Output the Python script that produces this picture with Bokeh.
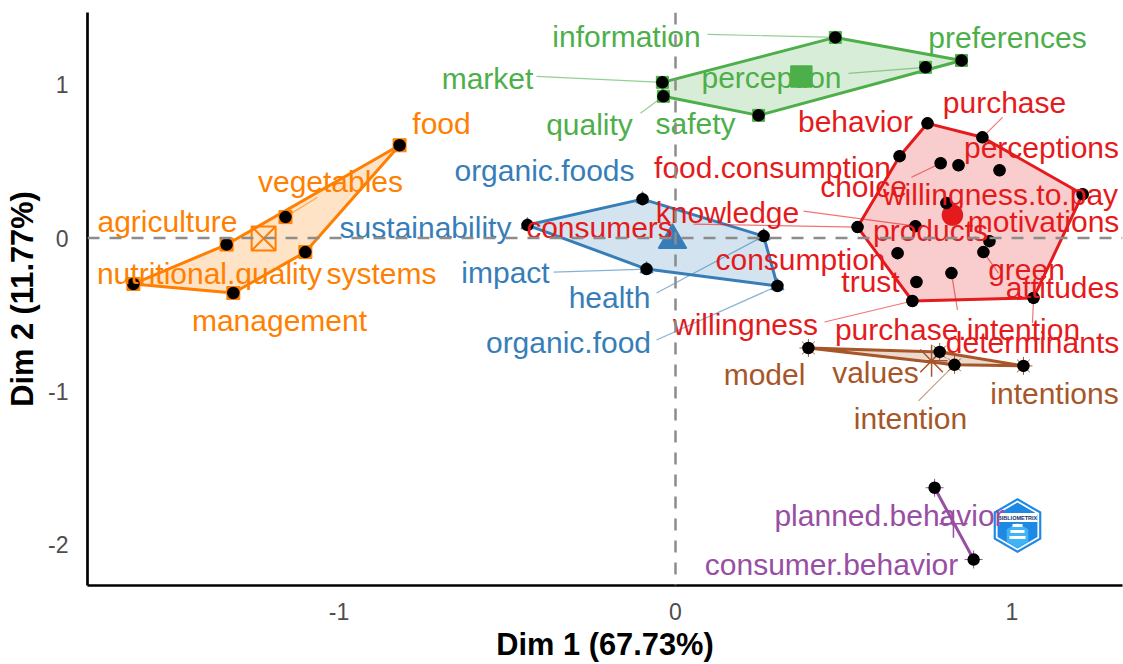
from bokeh.plotting import figure
from bokeh.embed import file_html
from bokeh.resources import INLINE
from bokeh.core.properties import value
from bokeh.models import Span, FixedTicker, ColumnDataSource

# ---- data (Dim 1, Dim 2) ----
orange_names = ["food", "vegetables", "agriculture", "systems", "nutritional.quality", "management"]
orange_x = [-0.820, -1.159, -1.334, -1.100, -1.611, -1.314]
orange_y = [0.605, 0.137, -0.042, -0.091, -0.299, -0.358]
orange_hull = ["food", "systems", "management", "nutritional.quality", "agriculture"]
orange_centre = (-1.224, -0.003)

blue_names = ["organic.foods", "sustainability", "impact", "health", "organic.food"]
blue_x = [-0.098, -0.440, -0.086, 0.262, 0.303]
blue_y = [0.254, 0.085, -0.202, 0.013, -0.312]
blue_hull = ["organic.foods", "health", "organic.food", "impact", "sustainability"]
blue_centre = (-0.009, -0.013)

green_names = ["information", "preferences", "perception", "market", "quality", "safety"]
green_x = [0.475, 0.850, 0.743, -0.039, -0.036, 0.247]
green_y = [1.308, 1.158, 1.113, 1.015, 0.924, 0.800]
green_hull = ["information", "preferences", "safety", "quality", "market"]
green_centre = (0.374, 1.054)

red_names = ["behavior", "purchase", "perceptions", "food.consumption", "choice", "motivations",
             "willingness.to.pay", "products", "knowledge", "consumers", "attitudes", "green",
             "consumption", "trust", "purchase.intention", "willingness", "determinants"]
red_x = [0.749, 0.912, 0.963, 0.666, 0.788, 0.841, 1.210, 0.805, 0.713, 0.541, 0.933, 0.915,
         0.660, 0.716, 0.820, 0.704, 1.064]
red_y = [0.748, 0.657, 0.442, 0.534, 0.488, 0.475, 0.286, 0.228, 0.078, 0.072, -0.020, -0.091,
         -0.098, -0.286, -0.228, -0.410, -0.390]
red_hull = ["behavior", "purchase", "willingness.to.pay", "determinants", "willingness", "consumers",
            "food.consumption"]
red_centre = (0.823, 0.150)

brown_names = ["model", "values", "intention", "intentions"]
brown_x = [0.395, 0.785, 0.829, 1.034]
brown_y = [-0.716, -0.742, -0.826, -0.833]
brown_hull = ["model", "values", "intentions", "intention"]
brown_centre = (0.761, -0.800)

purple_names = ["planned.behavior", "consumer.behavior"]
purple_x = [0.770, 0.886]
purple_y = [-1.627, -2.095]
purple_hull = ["planned.behavior", "consumer.behavior"]
purple_centre = (0.826, -1.861)

x_ticks = [-1, 0, 1]
y_ticks = [-2, -1, 0, 1]
x_title = "Dim 1 (67.73%)"
y_title = "Dim 2 (11.77%)"
logo_text = "BIBLIOMETRIX"

# ---- layout: repelled label positions and connector ends, in Dim units ----
X0, XS, Y0, YS = 675.0, 336.5, 238.0, 153.7
def dx(px): return (px - X0) / XS
def dy(px): return (Y0 - px) / YS

label_px = {
    "food": (441, 124), "vegetables": (330, 182), "agriculture": (167, 222), "systems": (381, 274),
    "nutritional.quality": (209, 274), "management": (279, 322),
    "organic.foods": (544, 171), "sustainability": (425, 228), "impact": (505, 273), "health": (609, 298),
    "organic.food": (568, 344),
    "information": (626, 37), "preferences": (1007, 38), "perception": (771, 78), "market": (487, 79),
    "quality": (589, 125), "safety": (695, 124),
    "behavior": (855, 122), "purchase": (1004, 103), "perceptions": (1041, 148),
    "food.consumption": (772, 168), "choice": (863, 187), "willingness.to.pay": (1000, 195),
    "motivations": (1043, 222), "knowledge": (727, 213), "consumers": (599, 228), "products": (930, 231),
    "consumption": (800, 260), "trust": (870, 282), "green": (1026, 270), "attitudes": (1062, 288),
    "purchase.intention": (957, 331), "willingness": (745, 326), "determinants": (1032, 344),
    "model": (764, 376), "values": (875, 374), "intention": (910, 420), "intentions": (1054, 395),
    "planned.behavior": (889, 517), "consumer.behavior": (831, 566),
}
connector_px = {
    "vegetables": (317, 197), "information": (707, 34), "market": (536, 76), "perception": (848, 73),
    "quality": (640, 113), "purchase": (1002, 117), "choice": (911, 177), "knowledge": (803, 211),
    "consumers": (693, 224), "green": (998, 273), "purchase.intention": (957, 310),
    "willingness": (824, 322), "determinants": (1032, 323), "impact": (553, 272), "health": (656, 293),
    "organic.food": (656, 340), "intention": (918, 401),
}

FONT = "Liberation Sans"
LABEL_SIZE = "30px"

p = figure(width=1123, height=664, output_backend="svg", toolbar_location=None,
           x_range=(dx(87), dx(1122)), y_range=(dy(586), dy(12)),
           min_border_left=87, min_border_right=1, min_border_top=12, min_border_bottom=78,
           background_fill_color="white", border_fill_color="white", outline_line_color=None)
p.grid.visible = False

for ax in (p.xaxis[0], p.yaxis[0]):
    ax.axis_line_color = "black"
    ax.axis_line_width = 2.7
    ax.major_tick_line_color = None
    ax.minor_tick_line_color = None
    ax.major_label_text_font = FONT
    ax.major_label_text_font_size = "23px"
    ax.major_label_text_color = "#4D4D4D"
    ax.axis_label_text_font = FONT
    ax.axis_label_text_font_size = "30.8px"
    ax.axis_label_text_font_style = "bold"
    ax.axis_label_text_color = "black"
p.xaxis[0].ticker = FixedTicker(ticks=x_ticks)
p.yaxis[0].ticker = FixedTicker(ticks=y_ticks)
p.xaxis[0].major_label_overrides = {t: str(t) for t in x_ticks}
p.yaxis[0].major_label_overrides = {t: str(t) for t in y_ticks}
p.xaxis[0].axis_label = x_title
p.yaxis[0].axis_label = y_title
p.xaxis[0].major_label_standoff = 11
p.yaxis[0].major_label_standoff = 13
p.xaxis[0].axis_label_standoff = 4
p.yaxis[0].axis_label_standoff = 5

for dim in ("width", "height"):
    p.add_layout(Span(location=0, dimension=dim, line_color="#8C8C8C", line_width=2.5, line_dash="12 10"))

groups = [
    (orange_names, orange_x, orange_y, orange_hull, orange_centre, "#FF7F00", "square", 13),
    (blue_names, blue_x, blue_y, blue_hull, blue_centre, "#377EB8", "triangle", 13),
    (green_names, green_x, green_y, green_hull, green_centre, "#4DAF4A", "square", 12),
    (red_names, red_x, red_y, red_hull, red_centre, "#E41A1C", "circle", 11),
    (brown_names, brown_x, brown_y, brown_hull, brown_centre, "#A65628", "asterisk", 18),
    (purple_names, purple_x, purple_y, purple_hull, purple_centre, "#984EA3", "cross", 18),
]
centre_style = {"#FF7F00": ("square_x", 24), "#377EB8": ("triangle", 28), "#4DAF4A": ("square", 21),
                "#E41A1C": ("circle", 20), "#A65628": ("asterisk", 32), "#984EA3": ("cross", 28)}

# hulls, connectors, markers
for names, xs, ys, hull, centre, col, mark, msize in groups:
    idx = [names.index(n) for n in hull]
    hx = [xs[i] for i in idx]
    hy = [ys[i] for i in idx]
    p.patch(hx, hy, fill_color=col, fill_alpha=0.22, line_color=col, line_width=3)
    for n, x, y in zip(names, xs, ys):
        if n in connector_px:
            ex, ey = connector_px[n]
            p.line([x, dx(ex)], [y, dy(ey)], line_color=col, line_alpha=0.6, line_width=1.2)
    p.scatter(xs, ys, marker=mark, size=msize, fill_color=col, line_color=col, line_width=1)
    cm, cs = centre_style[col]
    if cm == "square_x":
        p.scatter([centre[0]], [centre[1]], marker=cm, size=cs, fill_color=None, line_color=col, line_width=2)
    else:
        p.scatter([centre[0]], [centre[1]], marker=cm, size=cs, fill_color=col, line_color=col, line_width=1.5)
    p.scatter(xs, ys, marker="circle", size=12.5, fill_color="black", line_color="black", line_width=0)

# logo
LX, LY = 1017, 526
for size, col in ((55, "#1E88E5"), (50, "white"), (46, "#1E88E5")):
    p.scatter([dx(LX)], [dy(LY)], marker="hex", angle=0.5236, size=size, fill_color=col, line_color=None)
p.scatter([dx(LX)], [dy(LY + 10)], marker="hex", angle=0.5236, size=25, fill_color="#3CB4F5", line_color=None)
p.rect([dx(LX)], [dy(LY - 8)], width=40, height=9, width_units="screen", height_units="screen",
       fill_color="white", line_color=None)
p.text([dx(LX)], [dy(LY - 8)], text=[logo_text], text_font=value(FONT), text_font_size="5.5px", text_font_style="bold",
       text_color="#0D2C6B", text_align="center", text_baseline="middle")
for off, w in ((0, 10), (6, 14), (12, 16)):
    p.rect([dx(LX)], [dy(LY + off)], width=w, height=3, width_units="screen", height_units="screen",
           fill_color="white", line_color=None)

# labels
for names, xs, ys, hull, centre, col, mark, msize in groups:
    src = ColumnDataSource(dict(x=[dx(label_px[n][0]) for n in names], y=[dy(label_px[n][1]) for n in names], t=names))
    p.text("x", "y", text="t", source=src, text_font=value(FONT), text_font_size=LABEL_SIZE, text_color=col,
           text_align="center", text_baseline="middle", y_offset=-1)

open("out.html", "w").write(file_html(p, INLINE))
